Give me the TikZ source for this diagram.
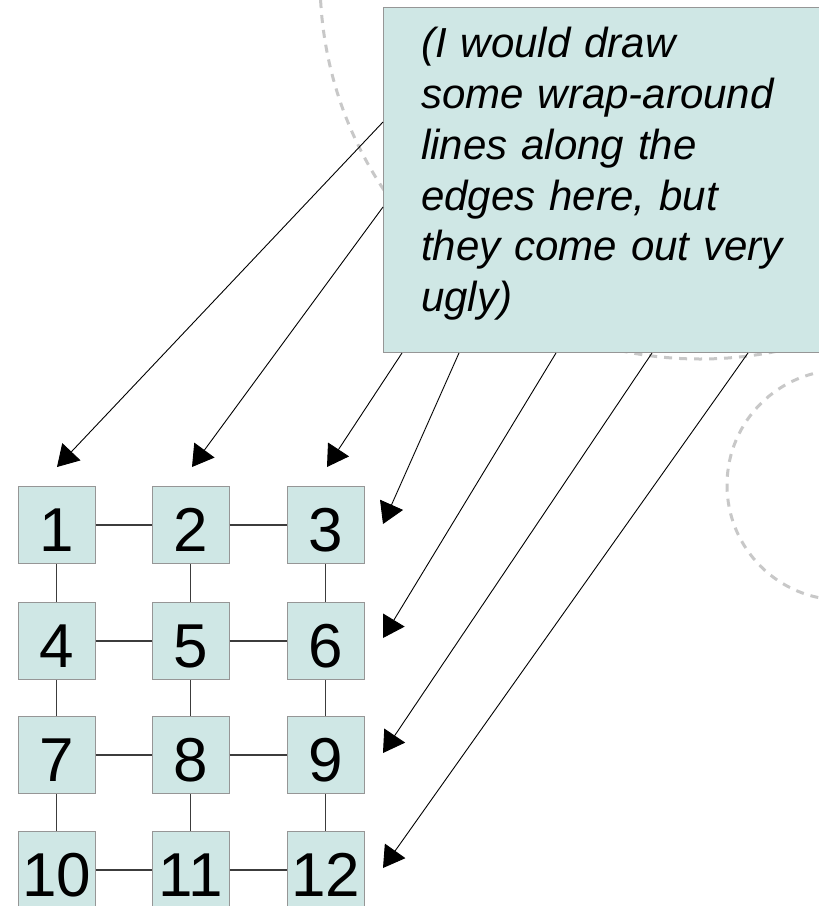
\documentclass[tikz,border=0pt]{standalone}
\usepackage{fontspec}
\setmainfont{Liberation Sans}
\usetikzlibrary{arrows.meta,calc}
\definecolor{cellfill}{RGB}{207,231,229}
\definecolor{cellline}{RGB}{150,150,150}
\definecolor{linkline}{RGB}{60,60,60}
\definecolor{ringgray}{RGB}{200,200,200}
\begin{document}
\begin{tikzpicture}[x=1pt,y=-1pt,
  cell/.style={draw=cellline, fill=cellfill, line width=1pt,
    minimum width=77pt, minimum height=77pt, inner sep=0pt,
    font=\fontsize{62}{62}\selectfont, text height=53pt, text depth=0pt},
  notebox/.style={draw=cellline, fill=cellfill, line width=1pt, inner sep=0pt},
  link/.style={draw=linkline, line width=1.2pt},
  pointer/.style={draw=black, line width=0.9pt, -{Triangle[length=21pt,width=25pt]}},
  ring/.style={draw=ringgray, line width=3pt, dash pattern=on 8pt off 7pt}]

\useasboundingbox (0,0) rectangle (819,906);
\clip (0,0) rectangle (819,906);

% faint dashed rings in the background
\draw[ring] (700,-21) circle[radius=380pt];
\draw[ring] (842,485) circle[radius=115pt];

% comment box
\node[notebox, anchor=north west, minimum width=447pt, minimum height=345pt] (note) at (383,7) {};
\node[anchor=north west, inner sep=0pt, text width=400pt, align=left,
  font=\fontsize{42}{50.8}\selectfont\itshape] (notetext) at (421,27)
  {(I would draw\\some wrap-around\\lines along the\\edges here, but\\they come out very\\ugly)};

% grid of cells
\node[cell] (c1)  at (56.5,525) {1};
\node[cell] (c2)  at (190.5,525) {2};
\node[cell] (c3)  at (325.5,525) {3};
\node[cell] (c4)  at (56.5,641) {4};
\node[cell] (c5)  at (190.5,641) {5};
\node[cell] (c6)  at (325.5,641) {6};
\node[cell] (c7)  at (56.5,755) {7};
\node[cell] (c8)  at (190.5,755) {8};
\node[cell] (c9)  at (325.5,755) {9};
\node[cell] (c10) at (56.5,870) {10};
\node[cell] (c11) at (190.5,870) {11};
\node[cell] (c12) at (325.5,870) {12};

% links between neighbouring cells
\foreach \a/\b in {c1/c2,c2/c3,c4/c5,c5/c6,c7/c8,c8/c9,c10/c11,c11/c12,
                   c1/c4,c4/c7,c7/c10,c2/c5,c5/c8,c8/c11,c3/c6,c6/c9,c9/c12}
  \draw[link] (\a) -- (\b);

% arrow targets
\coordinate (t1) at (57,467);
\coordinate (t2) at (192,467);
\coordinate (t3) at (327,467);
\coordinate (t4) at (383,524);
\coordinate (t5) at (383,638);
\coordinate (t6) at (383,753);
\coordinate (t7) at (383,868);

% pointers from the comment box
\draw[pointer] ($(note.north west)+(0,115)$) -- (t1);
\draw[pointer] ($(note.north west)+(0,200)$) -- (t2);
\draw[pointer] ($(note.south west)+(19,0)$) -- (t3);
\draw[pointer] ($(note.south west)+(76,0)$) -- (t4);
\draw[pointer] ($(note.south west)+(173,0)$) -- (t5);
\draw[pointer] ($(note.south west)+(269,0)$) -- (t6);
\draw[pointer] ($(note.south west)+(365,0)$) -- (t7);
\end{tikzpicture}
\end{document}
